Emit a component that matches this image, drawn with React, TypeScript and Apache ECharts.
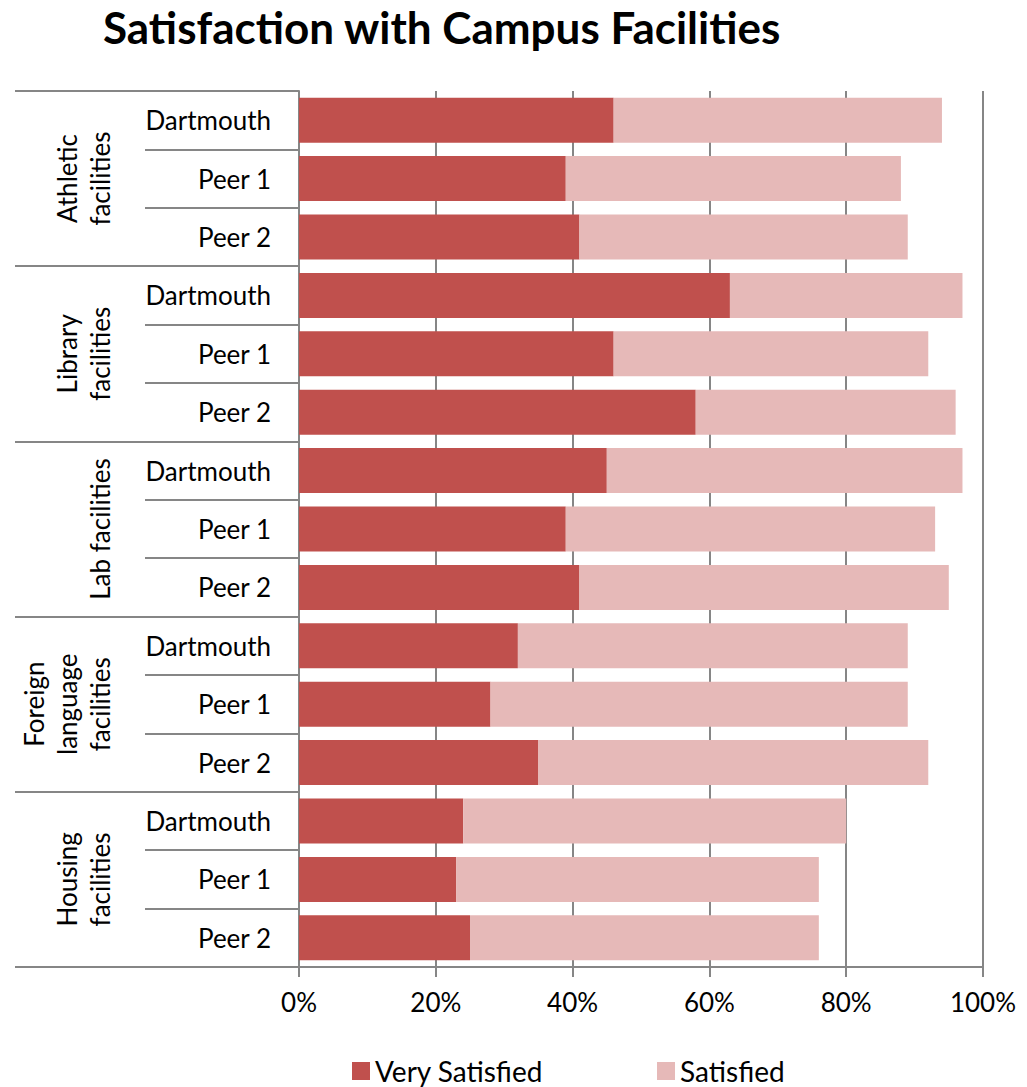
import React, { useEffect, useRef } from "react";
import * as echarts from "echarts";

const groups = ["Athletic\nfacilities", "Library\nfacilities", "Lab facilities", "Foreign\nlanguage\nfacilities", "Housing\nfacilities"];
const institutions = ["Dartmouth", "Peer 1", "Peer 2"];
const verySatisfied = [46, 39, 41, 63, 46, 58, 45, 39, 41, 32, 28, 35, 24, 23, 25];
const satisfied = [48, 49, 48, 34, 46, 38, 52, 54, 54, 57, 61, 57, 56, 53, 51];
const xTicks = [0, 20, 40, 60, 80, 100];

const FONT = "Lato, 'Open Sans', sans-serif";
const GRAY = "#868686";

export default function App() {
  const ref = useRef<HTMLDivElement>(null);
  useEffect(() => {
    document.body.style.margin = "0";
    if (!ref.current) return;
    const chart = echarts.init(ref.current, null, { renderer: "svg" });
    const rowKeys: string[] = [];
    groups.forEach((g, gi) => institutions.forEach((inst) => rowKeys.push(gi + "|" + inst)));
    const option: any = {
      animation: false,
      textStyle: { fontFamily: FONT },
      title: {
        text: "Satisfaction with Campus Facilities",
        left: 98,
        top: 0,
        textStyle: { fontFamily: FONT, fontSize: 44, fontWeight: "bold", color: "#000" },
      },
      legend: {
        left: 347,
        top: 1052,
        icon: "rect",
        itemWidth: 18,
        itemHeight: 18,
        itemGap: 114,
        textStyle: { fontFamily: FONT, fontSize: 28, color: "#000" },
        data: ["Very Satisfied", "Satisfied"],
      },
      grid: { left: 299, right: 44, top: 91, bottom: 120, containLabel: false },
      xAxis: {
        type: "value",
        min: xTicks[0],
        max: xTicks[xTicks.length - 1],
        interval: 20,
        axisLine: { show: true, lineStyle: { color: GRAY, width: 2 } },
        axisTick: { show: true, length: 10, lineStyle: { color: GRAY, width: 2 } },
        splitLine: { show: true, lineStyle: { color: GRAY, width: 2 } },
        axisLabel: { formatter: "{value}%", fontFamily: FONT, fontSize: 26, color: "#000", margin: 22 },
      },
      yAxis: [
        {
          type: "category",
          inverse: true,
          position: "left",
          data: rowKeys,
          axisLine: { show: true, lineStyle: { color: GRAY, width: 2 } },
          axisTick: { show: true, length: 154, alignWithLabel: false, lineStyle: { color: GRAY, width: 2 } },
          axisLabel: {
            formatter: (v: string) => v.split("|")[1],
            fontFamily: FONT,
            fontSize: 26,
            color: "#000",
            margin: 28,
          },
        },
        {
          type: "category",
          inverse: true,
          position: "left",
          offset: 0,
          data: groups,
          axisLine: { show: false },
          axisTick: { show: true, length: 284, alignWithLabel: false, lineStyle: { color: GRAY, width: 2 } },
          axisLabel: { show: false },
          splitLine: { show: false },
        },
      ],
      series: [
        {
          name: "Very Satisfied",
          type: "bar",
          stack: "total",
          yAxisIndex: 0,
          barCategoryGap: "23%",
          itemStyle: { color: "#C0504D" },
          data: verySatisfied,
        },
        {
          name: "Satisfied",
          type: "bar",
          stack: "total",
          yAxisIndex: 0,
          barCategoryGap: "23%",
          itemStyle: { color: "#E6B9B8" },
          data: satisfied,
        },
      ],
    };
    chart.setOption(option);
    const graphics = groups.map((g, gi) => {
      const y = chart.convertToPixel({ yAxisIndex: 0 }, rowKeys[gi * 3 + 1]) as number;
      return {
        type: "text",
        x: 116,
        y,
        rotation: Math.PI / 2,
        style: {
          text: g,
          fontFamily: FONT,
          fontSize: 26,
          lineHeight: 33,
          fill: "#000",
          align: "center",
          verticalAlign: "bottom",
        },
      };
    });
    chart.setOption({ graphic: graphics });
    return () => chart.dispose();
  }, []);
  return <div ref={ref} style={{ width: 1027, height: 1087 }} />;
}
